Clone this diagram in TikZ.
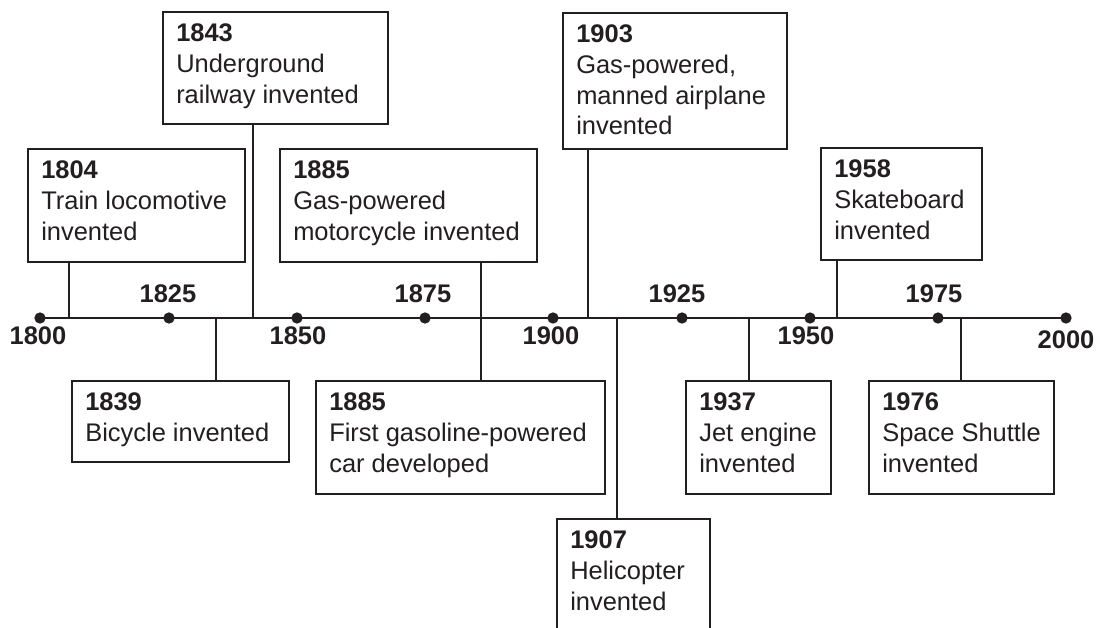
\documentclass[tikz,border=0pt]{standalone}
\usepackage{fontspec}
\setmainfont{Liberation Sans}
\definecolor{ink}{RGB}{35,31,32}
\newcommand\evbox[6]{%
  \node[evb, minimum width={#4*0.75pt}, minimum height={#5*0.75pt}] (#1) at (#2,#3) {};
  \node[evt] (#1t) at (#1.north west) {#6};}
\begin{document}
\begin{tikzpicture}[x=0.75pt,y=-0.75pt,
  evb/.style={draw=ink, line width=1.7pt, anchor=north west, inner sep=0pt},
  evt/.style={anchor=north west, inner xsep=10.5pt, inner ysep=9.5pt, align=left,
    font=\fontsize{19.1pt}{23pt}\selectfont, text=ink},
  yr/.style={font=\bfseries\fontsize{19.1pt}{23pt}\selectfont, text=ink, inner sep=0pt},
  dot/.style={circle, fill=ink, inner sep=0pt, minimum size=8.5pt},
  conn/.style={draw=ink, line width=1.8pt}]
\clip (0,0) rectangle (1100,628);
\fill[white] (0,0) rectangle (1100,628);
% axis dots
\foreach \yv/\xv in {1800/40,1825/169,1850/297,1875/425,1900/553,1925/682,1950/810,1975/938,2000/1066}
  \node[dot] (d\yv) at (\xv,318) {};
\draw[conn] (d1800.center) -- (d2000.center);
% year labels
\node[yr] (l1800) at (38,336) {1800};
\node[yr] (l1825) at (168,294) {1825};
\node[yr] (l1850) at (298,336) {1850};
\node[yr] (l1875) at (423,294) {1875};
\node[yr] (l1900) at (551,336) {1900};
\node[yr] (l1925) at (677,294) {1925};
\node[yr] (l1950) at (806,336) {1950};
\node[yr] (l1975) at (934,294) {1975};
\node[yr] (l2000) at (1066,340) {2000};
% boxes
\evbox{b1804}{27}{148}{217}{113}{{\bfseries 1804}\\Train locomotive\\invented}
\evbox{b1843}{162}{11}{225}{112}{{\bfseries 1843}\\Underground\\railway invented}
\evbox{b1885a}{279}{148}{257}{113}{{\bfseries 1885}\\Gas-powered\\motorcycle invented}
\evbox{b1903}{562}{12}{224}{136}{{\bfseries 1903}\\Gas-powered,\\manned airplane\\invented}
\evbox{b1958}{820}{147}{161}{112}{{\bfseries 1958}\\Skateboard\\invented}
\evbox{b1839}{71}{380}{217}{81}{{\bfseries 1839}\\Bicycle invented}
\evbox{b1885b}{315}{380}{289}{113}{{\bfseries 1885}\\First gasoline-powered\\car developed}
\evbox{b1907}{556}{518}{153}{140}{{\bfseries 1907}\\Helicopter\\invented}
\evbox{b1937}{685}{380}{145}{113}{{\bfseries 1937}\\Jet engine\\invented}
\evbox{b1976}{868}{380}{185}{113}{{\bfseries 1976}\\Space Shuttle\\invented}
% connector anchors on axis
\coordinate (a1804) at (69,318);
\coordinate (a1843) at (253,318);
\coordinate (a1885) at (481,318);
\coordinate (a1903) at (588,318);
\coordinate (a1958) at (837,318);
\coordinate (a1839) at (216,318);
\coordinate (a1907) at (617,318);
\coordinate (a1937) at (749,318);
\coordinate (a1976) at (961,318);
% connectors
\draw[conn] (a1804 |- b1804.south) -- (a1804);
\draw[conn] (a1843 |- b1843.south) -- (a1843);
\draw[conn] (a1885 |- b1885a.south) -- (a1885 |- b1885b.north);
\draw[conn] (a1903 |- b1903.south) -- (a1903);
\draw[conn] (a1958 |- b1958.south) -- (a1958);
\draw[conn] (a1839) -- (a1839 |- b1839.north);
\draw[conn] (a1907) -- (a1907 |- b1907.north);
\draw[conn] (a1937) -- (a1937 |- b1937.north);
\draw[conn] (a1976) -- (a1976 |- b1976.north);
\end{tikzpicture}
\end{document}
